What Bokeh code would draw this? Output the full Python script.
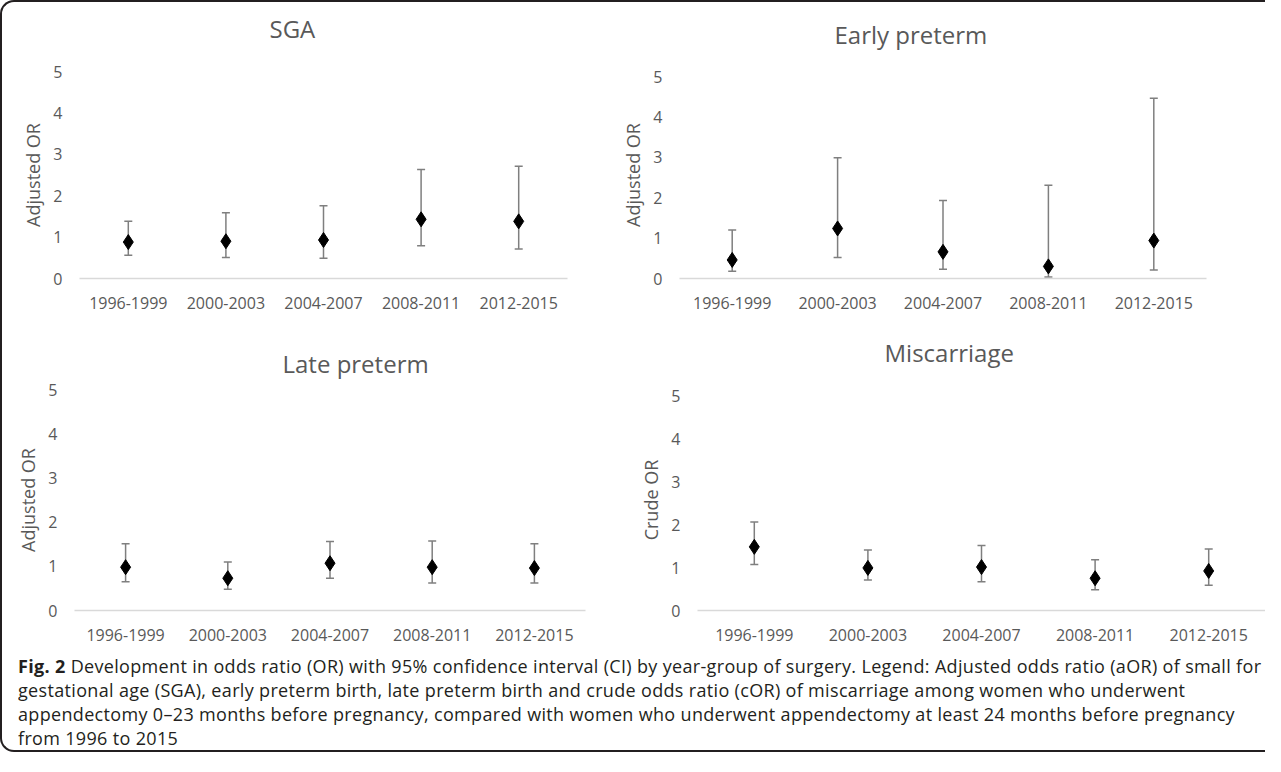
from bokeh.plotting import figure
from bokeh.models import ColumnDataSource, Whisker, TeeHead, Div, Range1d, FixedTicker, Title
from bokeh.layouts import column, row
from bokeh.embed import file_html
from bokeh.resources import INLINE

periods = ["1996-1999", "2000-2003", "2004-2007", "2008-2011", "2012-2015"]
y_ticks = [0, 1, 2, 3, 4, 5]

sga_or = [0.88, 0.90, 0.93, 1.43, 1.38]
sga_lo = [0.56, 0.51, 0.49, 0.79, 0.71]
sga_hi = [1.38, 1.59, 1.76, 2.63, 2.71]

early_or = [0.46, 1.24, 0.66, 0.30, 0.94]
early_lo = [0.18, 0.52, 0.23, 0.04, 0.21]
early_hi = [1.20, 2.99, 1.93, 2.31, 4.47]

late_or = [0.98, 0.73, 1.07, 0.98, 0.96]
late_lo = [0.65, 0.48, 0.73, 0.62, 0.62]
late_hi = [1.51, 1.10, 1.56, 1.57, 1.51]

misc_or = [1.48, 0.99, 1.01, 0.75, 0.92]
misc_lo = [1.07, 0.71, 0.67, 0.48, 0.59]
misc_hi = [2.06, 1.41, 1.51, 1.18, 1.43]

TXT = "#595959"
FONT = "Open Sans"
BAR = "#7f7f7f"


def panel(title, ylabel, est, lo, hi, width, height, mbl, mbr, mbt, mbb,
          y_end, t_off, gap):
    src = ColumnDataSource(dict(period=periods, est=est, lo=lo, hi=hi))
    p = figure(x_range=periods, y_range=Range1d(0, y_end), width=width, height=height,
               min_border_left=mbl, min_border_right=mbr, min_border_top=mbt,
               min_border_bottom=mbb, output_backend="svg", toolbar_location=None,
               title=None)
    # spacer between frame and title (nearest to the frame)
    p.add_layout(Title(text=" ", text_font_size="1px", standoff=gap), "above")
    p.add_layout(Title(text=title, align="left", offset=t_off, standoff=0,
                       text_font=FONT, text_font_size="24px", text_font_style="normal",
                       text_color=TXT), "above")
    p.outline_line_color = None
    p.xgrid.visible = False
    p.ygrid.visible = False
    p.background_fill_color = None
    p.border_fill_color = None

    xa = p.xaxis[0]
    xa.axis_line_color = "#d9d9d9"
    xa.axis_line_width = 1.5
    xa.major_tick_line_color = None
    xa.minor_tick_line_color = None
    xa.major_tick_out = 0
    xa.major_tick_in = 0
    xa.major_label_standoff = 18
    xa.major_label_text_font = FONT
    xa.major_label_text_font_size = "16px"
    xa.major_label_text_color = TXT

    ya = p.yaxis[0]
    ya.ticker = FixedTicker(ticks=y_ticks)
    ya.axis_line_color = None
    ya.major_tick_line_color = None
    ya.minor_tick_line_color = None
    ya.major_tick_out = 0
    ya.major_tick_in = 0
    ya.major_label_standoff = 17
    ya.major_label_text_font = FONT
    ya.major_label_text_font_size = "16px"
    ya.major_label_text_color = TXT
    ya.axis_label = ylabel
    ya.axis_label_standoff = 5
    ya.axis_label_text_font = FONT
    ya.axis_label_text_font_size = "18px"
    ya.axis_label_text_font_style = "normal"
    ya.axis_label_text_color = TXT

    w = Whisker(source=src, base="period", upper="hi", lower="lo",
                line_color=BAR, line_width=1.5,
                upper_head=TeeHead(size=8, line_color=BAR, line_width=1.5),
                lower_head=TeeHead(size=8, line_color=BAR, line_width=1.5))
    p.add_layout(w)
    p.scatter("period", "est", source=src, marker="diamond", size=15,
              fill_color="black", line_color="black")
    return p


p1 = panel("SGA", "Adjusted OR", sga_or, sga_lo, sga_hi,
           600, 315, 77, 35, 69, 39, 5.0, 190, 24)
p2 = panel("Early preterm", "Adjusted OR", early_or, early_lo, early_hi,
           663, 315, 77, 59, 69, 39, 5.13, 155, 18)
p3 = panel("Late preterm", "Adjusted OR", late_or, late_lo, late_hi,
           600, 333, 72, 17, 72, 40, 5.0, 208, 7)
p4 = panel("Miscarriage", "Crude OR", misc_or, misc_lo, misc_hi,
           663, 333, 95, 0, 72, 40, 5.14, 187, 18)

caption_lines = [
    "<b>Fig. 2</b> Development in odds ratio (OR) with 95% confidence interval (CI) by year-group of surgery. Legend: Adjusted odds ratio (aOR) of small for",
    "gestational age (SGA), early preterm birth, late preterm birth and crude odds ratio (cOR) of miscarriage among women who underwent",
    "appendectomy 0\u201323 months before pregnancy, compared with women who underwent appendectomy at least 24 months before pregnancy",
    "from 1996 to 2015",
]
caption = Div(text="<br>".join(caption_lines), width=1247, height=96, margin=(4, 0, 0, 16),
              styles={"font-family": "'Open Sans'", "font-size": "18px",
                      "letter-spacing": "0.33px",
                      "line-height": "24px", "color": "#231f20",
                      "white-space": "nowrap", "overflow": "hidden"})

layout = column(row(p1, p2), row(p3, p4), caption,
                styles={"border-left": "2px solid #231f20",
                        "border-top": "2px solid #231f20",
                        "border-bottom": "2px solid #231f20",
                        "border-radius": "14px 0 0 14px"})

open("out.html", "w").write(file_html(layout, INLINE))
